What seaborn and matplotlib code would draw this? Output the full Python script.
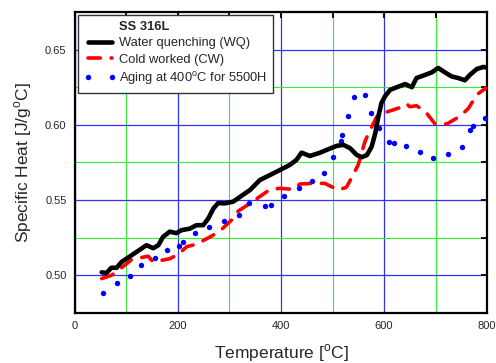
import matplotlib
matplotlib.use("Agg")
import matplotlib.pyplot as plt
import seaborn as sns
import pandas as pd
from matplotlib.lines import Line2D
from matplotlib.ticker import MultipleLocator

# Water quenching (WQ)
temp_wq = [52, 61, 71, 81, 91, 100, 113, 126, 139, 152, 162, 171, 184, 197, 207, 223,
           236, 249, 259, 269, 278, 291, 307, 320, 340, 359, 379, 398, 417, 430, 440,
           456, 476, 492, 508, 521, 534, 547, 557, 567, 576, 583, 589, 595, 602, 612,
           625, 641, 654, 663, 676, 693, 705, 718, 731, 744, 757, 767, 780, 793, 800]
cp_wq = [0.502, 0.5015, 0.505, 0.505, 0.509, 0.511, 0.514, 0.517, 0.520, 0.518, 0.520,
         0.5255, 0.529, 0.528, 0.530, 0.531, 0.5333, 0.5333, 0.5378, 0.5445, 0.548,
         0.5478, 0.5489, 0.552, 0.5567, 0.5633, 0.5667, 0.570, 0.5733, 0.5767, 0.5815,
         0.5793, 0.5815, 0.5838, 0.586, 0.5867, 0.5845, 0.580, 0.5785, 0.580, 0.5855,
         0.5944, 0.6055, 0.6145, 0.619, 0.6233, 0.625, 0.6271, 0.625, 0.6311, 0.6327,
         0.6349, 0.6378, 0.6349, 0.6322, 0.6311, 0.6296, 0.6333, 0.6371, 0.6385, 0.638]

# Cold worked (CW)
temp_cw = [52, 71, 97, 110, 142, 152, 184, 201, 217, 236, 265, 282, 304, 317, 340, 363,
           379, 398, 424, 437, 463, 485, 511, 527, 540, 550, 563, 570, 586, 605, 634,
           644, 650, 663, 680, 699, 722, 748, 764, 780, 798]
cp_cw = [0.4978, 0.500, 0.5067, 0.5104, 0.5127, 0.5089, 0.511, 0.514, 0.519, 0.5207,
         0.526, 0.5296, 0.5367, 0.5427, 0.5478, 0.5533, 0.5571, 0.5578, 0.5571, 0.5607,
         0.5611, 0.5611, 0.5567, 0.5585, 0.5667, 0.5735, 0.5889, 0.5944, 0.6055, 0.6085,
         0.6118, 0.6140, 0.6120, 0.6127, 0.6089, 0.6006, 0.6006, 0.6058, 0.6110, 0.620,
         0.6245]

# Aging at 400C for 5500H
temp_ag = [54, 81, 107, 128, 155, 178, 203, 210, 234, 261, 289, 318, 338, 369, 381,
           406, 434, 461, 484, 501, 516, 519, 530, 542, 563, 574, 591, 610, 619, 643,
           669, 696, 725, 751, 767, 773, 796]
cp_ag = [0.4885, 0.4949, 0.4995, 0.5067, 0.5115, 0.5171, 0.5195, 0.522, 0.5282, 0.5322,
         0.5362, 0.540, 0.5478, 0.546, 0.5467, 0.5527, 0.5578, 0.5625, 0.5682, 0.5783,
         0.5894, 0.5935, 0.6061, 0.6184, 0.620, 0.608, 0.5978, 0.5889, 0.5876, 0.586,
         0.5822, 0.5778, 0.5805, 0.5851, 0.5967, 0.5993, 0.6045]

sns.set_theme(style="white")
plt.rcParams['font.family'] = ['Liberation Sans', 'DejaVu Sans']
plt.rcParams['mathtext.fontset'] = 'custom'
plt.rcParams['mathtext.rm'] = 'Liberation Sans'

fig = plt.figure(figsize=(4.96, 3.63), dpi=100)
ax = fig.add_axes([0.151, 0.138, 0.831, 0.829])

df_wq = pd.DataFrame({'T': temp_wq, 'Cp': cp_wq})
df_cw = pd.DataFrame({'T': temp_cw, 'Cp': cp_cw})
df_ag = pd.DataFrame({'T': temp_ag, 'Cp': cp_ag})

sns.lineplot(data=df_wq, x='T', y='Cp', ax=ax, color='black', linewidth=3.3,
             sort=False, zorder=4, label='Water quenching (WQ)')
sns.lineplot(data=df_cw, x='T', y='Cp', ax=ax, color='#ff0000', linewidth=2.6,
             sort=False, zorder=3, label='Cold worked (CW)')
ax.lines[-1].set_dashes((3.4, 3.0))
ax.lines[-1].set_dash_capstyle('round')
ax.plot(df_ag['T'], df_ag['Cp'], linestyle='none', marker='o', markersize=3.9,
        color='#0000ff', markeredgewidth=0, zorder=3, label='Aging at 400$^{\\rm o}$C for 5500H')

ax.set_xlim(0, 800)
ax.set_ylim(0.475, 0.675)
ax.xaxis.set_major_locator(MultipleLocator(200))
ax.xaxis.set_minor_locator(MultipleLocator(100))
ax.yaxis.set_major_locator(MultipleLocator(0.05))
ax.yaxis.set_minor_locator(MultipleLocator(0.025))
ax.yaxis.set_major_formatter(plt.FormatStrFormatter('%.2f'))

ax.grid(True, which='major', color='#3030ff', linewidth=0.9, zorder=0)
ax.grid(True, which='minor', color='#33ee33', linewidth=0.8, zorder=0)
ax.set_axisbelow(True)

for s in ax.spines.values():
    s.set_linewidth(1.6)
    s.set_color('black')
ax.tick_params(which='both', direction='in', top=True, right=True, color='black',
               width=1.3, length=4.5, labelsize=8, pad=6)

ax.set_xlabel('Temperature [$^{\\rm o}$C]', fontsize=12.5, labelpad=8)
ax.set_ylabel('Specific Heat [J/g$^{\\rm o}$C]', fontsize=12.5, labelpad=8)

handles, labels = ax.get_legend_handles_labels()
title_handle = Line2D([], [], linestyle='none')
leg = ax.legend([title_handle] + handles, ['SS 316L'] + labels, loc='upper left',
                fontsize=9.3, frameon=True, fancybox=False, edgecolor='#333333',
                framealpha=1, borderaxespad=0.25, handlelength=2.5, handletextpad=0.25,
                labelspacing=0.33, numpoints=2, borderpad=0.45)
leg.get_frame().set_linewidth(1.0)
leg.get_texts()[0].set_fontweight('bold')
leg.set_zorder(6)

plt.savefig('out.png', dpi=100)
plt.close()
